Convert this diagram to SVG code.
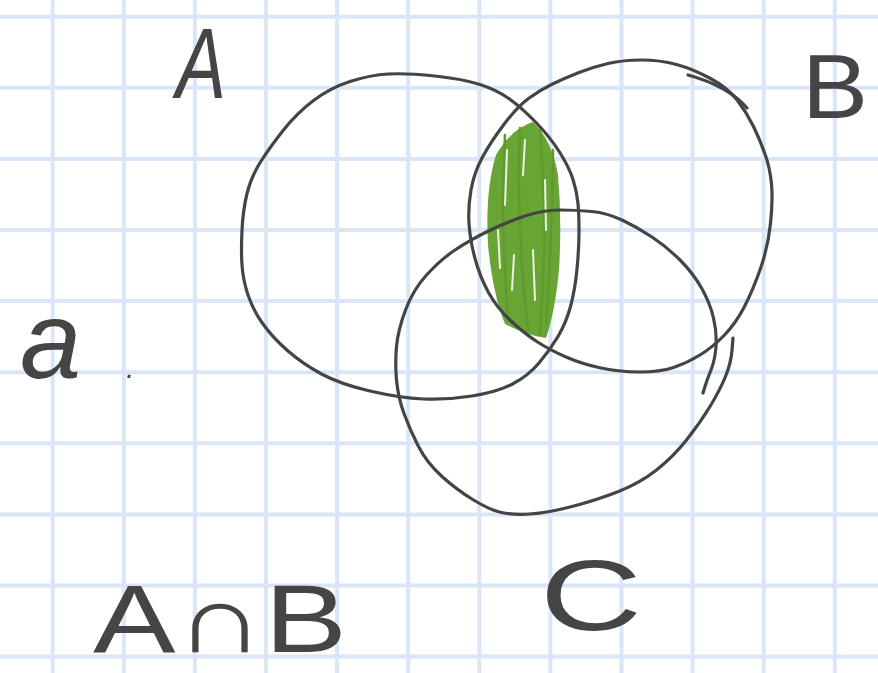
<svg xmlns="http://www.w3.org/2000/svg" width="878" height="673" viewBox="0 0 878 673">
<style>
.grid line{stroke:#d9e6f8;stroke-width:4}
.ink{fill:none;stroke:#444;stroke-width:3.2;stroke-linecap:round;stroke-linejoin:round}
.lbl{font-family:"Liberation Sans","DejaVu Sans",sans-serif;fill:#454545}
.scr{fill:none;stroke:#5f9a2e;stroke-width:2.5;stroke-linecap:round}
.gap{fill:none;stroke:#e9f3df;stroke-width:2;stroke-linecap:round}
</style>
<rect width="878" height="673" fill="#fff"/>
<g class="grid" id="grid">
<line x1="52.7" y1="0" x2="52.7" y2="673"/><line x1="123.8" y1="0" x2="123.8" y2="673"/><line x1="194.9" y1="0" x2="194.9" y2="673"/><line x1="266" y1="0" x2="266" y2="673"/><line x1="337.1" y1="0" x2="337.1" y2="673"/><line x1="408.2" y1="0" x2="408.2" y2="673"/><line x1="479.3" y1="0" x2="479.3" y2="673"/><line x1="550.4" y1="0" x2="550.4" y2="673"/><line x1="621.5" y1="0" x2="621.5" y2="673"/><line x1="692.6" y1="0" x2="692.6" y2="673"/><line x1="763.7" y1="0" x2="763.7" y2="673"/><line x1="834.8" y1="0" x2="834.8" y2="673"/>
<line x1="0" y1="16.7" x2="878" y2="16.7"/><line x1="0" y1="87.8" x2="878" y2="87.8"/><line x1="0" y1="158.9" x2="878" y2="158.9"/><line x1="0" y1="230" x2="878" y2="230"/><line x1="0" y1="301.1" x2="878" y2="301.1"/><line x1="0" y1="372.2" x2="878" y2="372.2"/><line x1="0" y1="443.3" x2="878" y2="443.3"/><line x1="0" y1="514.4" x2="878" y2="514.4"/><line x1="0" y1="585.5" x2="878" y2="585.5"/><line x1="0" y1="656.6" x2="878" y2="656.6"/>
</g>
<g id="shading">
<path d="M533,122 Q552,140 558,175 Q562,220 559,270 Q555,312 546,338 Q528,336 505,324 Q493,295 488,245 Q485,190 496,155 Q512,128 533,122 Z" fill="#69a535"/>
<path class="scr" d="M505,135 Q500,220 508,318 M520,128 Q516,230 528,330 M540,130 Q548,230 540,335 M553,150 Q552,240 546,325"/>
<path class="gap" d="M507,150 L505,205 M525,140 L523,175 M533,250 L535,300 M514,255 L512,290 M545,180 L546,230 M498,230 L500,268"/>
</g>
<g id="circle-a">
<path class="ink" d="M350,81.5 Q370,75 388.5,74 Q407,73 435,76 Q463,79 480,84.5 Q497,90 509.5,99 Q522,108 536,122.5 Q550,137 559.5,152 Q569,167 573,179.5 Q577,192 578,203.5 Q579,215 579,231.5 Q579,248 577,269 Q575,290 570.5,306.5 Q566,323 558,336.5 Q550,350 539,363 Q528,376 512.5,384 Q497,392 472,396 Q447,400 423.5,399 Q400,398 370,391 Q340,384 321.5,374 Q303,364 288,351 Q273,338 263,324 Q253,310 248,295 Q243,280 242,265 Q241,250 242,230 Q243,210 247,193.5 Q251,177 260.5,162 Q270,147 283.5,130 Q297,113 313.5,100.5 Q330,88 350,81.5"/>
</g>
<g id="circle-b">
<path class="ink" d="M503.5,125 Q517,107 528.5,98.5 Q540,90 552.5,84 Q565,78 579,72.5 Q593,67 608,63.5 Q623,60 641.5,60 Q660,60 676.5,64.5 Q693,69 710.5,78.5 Q728,88 737.5,100.5 Q747,113 753.5,126.5 Q760,140 765,154 Q770,168 771.5,184 Q773,200 770.5,223.5 Q768,247 760.5,268.5 Q753,290 744.5,306.5 Q736,323 724.5,335 Q713,347 700,355 Q687,363 673.5,367.5 Q660,372 640,372 Q620,372 601,368 Q582,364 566,357 Q550,350 537.5,342 Q525,334 511,321 Q497,308 488.5,292.5 Q480,277 475,258.5 Q470,240 469,223.5 Q468,207 471,190 Q474,173 482,158 Q490,143 503.5,125"/>
<path class="ink" d="M688,75 Q728,86 747,108"/>
</g>
<g id="circle-c">
<path class="ink" d="M733,338 L732,350.5 Q731,363 725.5,376.5 Q720,390 710,406.5 Q700,423 686.5,440 Q673,457 656.5,470 Q640,483 618.5,491.5 Q597,500 572,506.5 Q547,513 530,514 Q513,515 501.5,512.5 Q490,510 473.5,500 Q457,490 442,476.5 Q427,463 418.5,446.5 Q410,430 404,413.5 Q398,397 396.5,380 Q395,363 396.5,346.5 Q398,330 405.5,310 Q413,290 426.5,275 Q440,260 455,250 Q470,240 488.5,231 Q507,222 525,216 Q543,210 560,210 Q577,210 592,211.5 Q607,213 622,220 Q637,227 652,237 Q667,247 680,260 Q693,273 701.5,288 Q710,303 713.5,318 Q717,333 716,346.5 Q715,360 711,370 Q707,380 705,386.5 L703,393"/>
</g>
<g id="label-a"><text class="lbl" x="176" y="98" font-size="100" font-style="italic" textLength="50" lengthAdjust="spacingAndGlyphs">A</text></g>
<g id="label-b"><text class="lbl" x="802" y="118" font-size="90" textLength="66" lengthAdjust="spacingAndGlyphs">B</text></g>
<g id="label-c"><text class="lbl" x="540" y="630" font-size="100" textLength="102" lengthAdjust="spacingAndGlyphs">C</text></g>
<g id="label-a-dot"><text class="lbl" x="20" y="378" font-size="110" font-style="italic">a<tspan x="126" font-size="30">.</tspan></text></g>
<g id="label-intersection"><text class="lbl" x="93" y="652" font-size="96" textLength="254" lengthAdjust="spacingAndGlyphs">A∩B</text></g>
</svg>
